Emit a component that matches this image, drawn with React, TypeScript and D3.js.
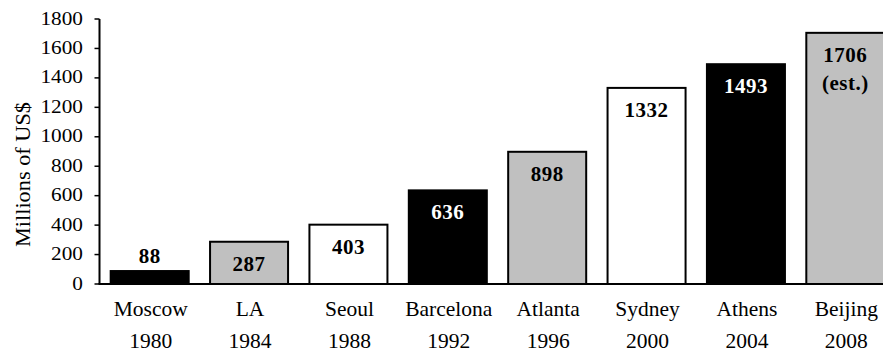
import React from "react";
import * as d3 from "d3";

const cities = ["Moscow", "LA", "Seoul", "Barcelona", "Atlanta", "Sydney", "Athens", "Beijing"];
const years = ["1980", "1984", "1988", "1992", "1996", "2000", "2004", "2008"];
const costs = [88, 287, 403, 636, 898, 1332, 1493, 1706];
const valueLabels = [["88"], ["287"], ["403"], ["636"], ["898"], ["1332"], ["1493"], ["1706", "(est.)"]];
const fills = ["#000000", "#c0c0c0", "#ffffff", "#000000", "#c0c0c0", "#ffffff", "#000000", "#c0c0c0"];
const yTicks = [0, 200, 400, 600, 800, 1000, 1200, 1400, 1600, 1800];
const yTitle = "Millions of US$";

const W = 883;
const H = 351;
const FONT = "\"Liberation Serif\", \"Times New Roman\", serif";

export default function App() {
  const axisX = 99.5;
  const x = d3
    .scaleBand<string>()
    .domain(cities)
    .range([100, 895])
    .paddingInner(0.215)
    .paddingOuter(0.1075);
  const y = d3.scaleLinear().domain([0, 1800]).range([284, 19]);

  return (
    <svg
      width={W}
      height={H}
      style={{ position: "absolute", left: 0, top: 0, background: "#fff", fontFamily: FONT }}
    >
      {cities.map((c, i) => {
        const bx = x(c)!;
        const top = y(costs[i]);
        return (
          <rect
            key={c}
            x={bx}
            y={top}
            width={x.bandwidth()}
            height={y(0) - top}
            fill={fills[i]}
            stroke="#000"
            strokeWidth={2}
          />
        );
      })}
      {cities.map((c, i) => {
        const cx = x(c)! + x.bandwidth() / 2;
        const top = y(costs[i]);
        const small = costs[i] < 150;
        const color = !small && fills[i] === "#000000" ? "#fff" : "#000";
        return valueLabels[i].map((t, j) => (
          <text
            key={c + j}
            x={cx}
            y={small ? top - 8 : top + 29 + j * 28}
            textAnchor="middle"
            fontSize={21}
            fontWeight="bold"
            fill={color}
            style={{ letterSpacing: "0.5px" }}
          >
            {t}
          </text>
        ));
      })}
      <line x1={axisX} x2={axisX} y1={y(1800)} y2={y(0)} stroke="#000" strokeWidth={2} />
      <line x1={axisX - 1} x2={W} y1={y(0)} y2={y(0)} stroke="#000" strokeWidth={2} />
      {yTicks.map((t) => (
        <g key={t}>
          <line x1={axisX - 5} x2={axisX} y1={y(t)} y2={y(t)} stroke="#000" strokeWidth={1.5} />
          <text
            transform={`translate(83,${y(t) + 5.5}) scale(1.15,1)`}
            textAnchor="end"
            fontSize={18.5}
            fill="#000"
          >
            {t}
          </text>
        </g>
      ))}
      {cities.map((c, i) => {
        const cx = x(c)! + x.bandwidth() / 2;
        return (
          <g key={c}>
            <text x={cx + 1} y={315.5} textAnchor="middle" fontSize={21.5} fill="#000">
              {c}
            </text>
            <text x={cx + 1} y={347.5} textAnchor="middle" fontSize={21.5} fill="#000">
              {years[i]}
            </text>
          </g>
        );
      })}
      <text
        transform={`translate(30,174.5) rotate(-90)`}
        textAnchor="middle"
        fontSize={22}
        textLength={145}
        lengthAdjust="spacingAndGlyphs"
        fill="#000"
      >
        {yTitle}
      </text>
    </svg>
  );
}
